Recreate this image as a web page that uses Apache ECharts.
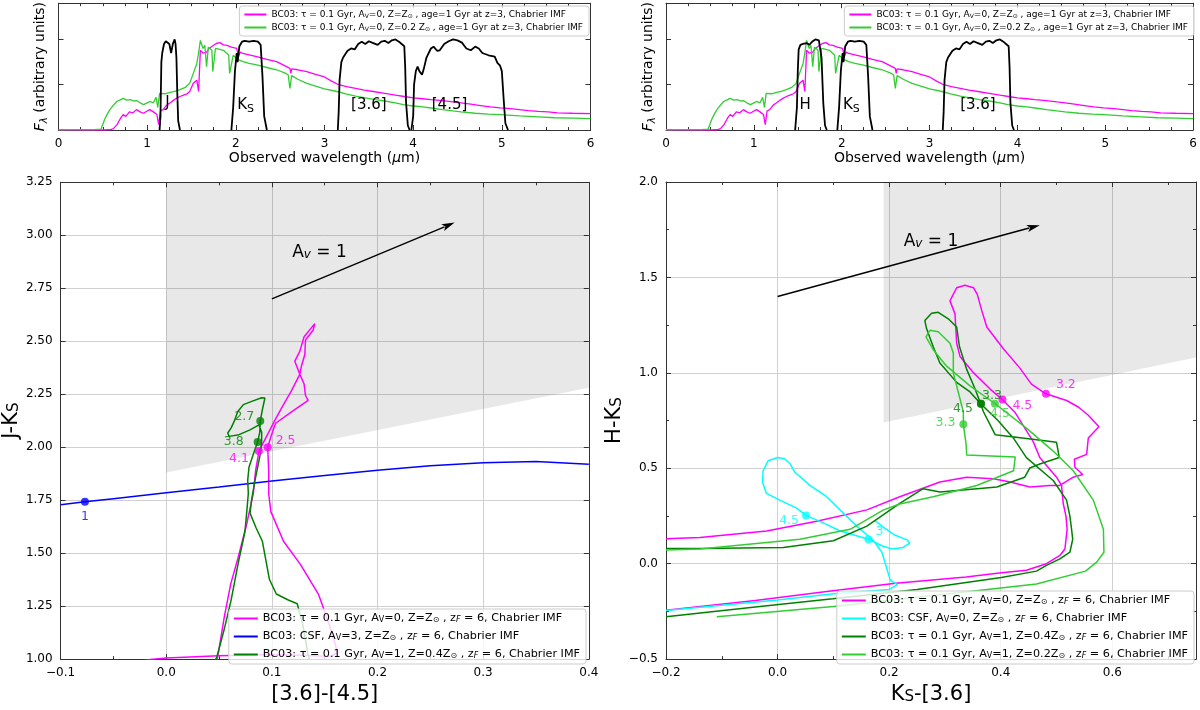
<!DOCTYPE html>
<html><head><meta charset="utf-8">
<script src="https://cdn.jsdelivr.net/npm/echarts@6/dist/echarts.min.js"></script>
<style>html,body{margin:0;padding:0;background:#fff}#c{width:1200px;height:710px}</style>
</head><body><div id="c"></div>
<script>
// ---------------- DATA ----------------
// Top panels: model spectra (wavelength in micron, arbitrary flux)
const specSolar = [[0.0,0],[0.5,0],[0.58,0.005],[0.62,0.03],[0.66,0.12],[0.7,0.26],[0.73,0.34],[0.76,0.3],[0.8,0.4],[0.84,0.38],[0.88,0.45],[0.92,0.4],[0.96,0.37],[1.0,0.42],[1.03,0.45],[1.07,0.4],[1.11,0.34],[1.13,0.12],[1.15,0.42],[1.18,0.45],[1.22,0.55],[1.26,0.6],[1.3,0.66],[1.33,0.7],[1.37,0.74],[1.41,0.77],[1.45,0.8],[1.48,0.85],[1.52,1.03],[1.56,1.1],[1.58,0.85],[1.6,1.76],[1.63,1.7],[1.67,1.72],[1.7,1.8],[1.74,1.86],[1.78,1.91],[1.82,1.93],[1.86,1.88],[1.9,1.87],[1.95,1.83],[2.01,1.8],[2.03,1.62],[2.05,1.72],[2.08,1.69],[2.15,1.66],[2.235,1.62],[2.35,1.56],[2.46,1.51],[2.55,1.42],[2.61,1.36],[2.62,1.25],[2.63,1.35],[2.7,1.33],[2.8,1.29],[2.9,1.23],[2.99,1.18],[3.08,1.08],[3.16,1.0],[3.25,0.96],[3.35,0.92],[3.45,0.88],[3.55,0.85],[3.68,0.81],[3.8,0.77],[3.9,0.74],[4.0,0.71],[4.11,0.69],[4.2,0.67],[4.33,0.65],[4.45,0.62],[4.54,0.6],[4.65,0.57],[4.76,0.54],[4.87,0.51],[4.98,0.49],[5.1,0.47],[5.2,0.45],[5.3,0.43],[5.41,0.41],[5.52,0.4],[5.63,0.38],[5.8,0.37],[6.0,0.36]];
const specLowZ = [[0.0,0.005],[0.2,0.01],[0.4,0.01],[0.48,0.02],[0.5,0.04],[0.52,0.23],[0.55,0.35],[0.58,0.45],[0.62,0.55],[0.656,0.63],[0.69,0.66],[0.73,0.7],[0.77,0.66],[0.81,0.67],[0.85,0.64],[0.88,0.65],[0.92,0.6],[0.96,0.56],[1.0,0.6],[1.03,0.63],[1.07,0.6],[1.1,0.72],[1.12,0.5],[1.14,0.81],[1.2,0.8],[1.26,0.83],[1.32,0.86],[1.37,0.89],[1.43,0.94],[1.48,1.03],[1.52,1.25],[1.56,1.47],[1.58,1.7],[1.6,1.98],[1.63,1.8],[1.65,1.87],[1.67,1.4],[1.69,1.83],[1.73,1.76],[1.74,1.29],[1.77,1.8],[1.82,1.78],[1.86,1.76],[1.92,1.65],[1.93,1.25],[1.97,1.65],[2.02,1.56],[2.08,1.51],[2.15,1.47],[2.235,1.44],[2.35,1.38],[2.46,1.33],[2.55,1.26],[2.59,1.22],[2.61,0.92],[2.63,1.2],[2.7,1.12],[2.8,1.03],[2.9,0.97],[3.0,0.91],[3.14,0.85],[3.24,0.8],[3.35,0.75],[3.46,0.71],[3.57,0.67],[3.68,0.64],[3.8,0.6],[3.89,0.56],[4.0,0.53],[4.11,0.51],[4.22,0.48],[4.33,0.45],[4.45,0.42],[4.54,0.4],[4.7,0.37],[4.85,0.35],[4.98,0.34],[5.2,0.31],[5.41,0.29],[5.6,0.27],[5.8,0.26],[6.0,0.25]];
// Filter transmission curves
const filterJ = [[1.14,0],[1.15,0.3],[1.16,1.5],[1.17,1.7],[1.19,1.9],[1.21,1.96],[1.23,2.0],[1.25,1.9],[1.27,1.7],[1.29,1.9],[1.31,2.0],[1.32,1.9],[1.33,1.6],[1.34,0.8],[1.35,0.2],[1.37,0]];
const filterH = [[1.47,0],[1.49,0.5],[1.5,1.3],[1.51,1.78],[1.53,1.88],[1.56,1.9],[1.6,1.92],[1.63,1.88],[1.67,1.96],[1.7,2.0],[1.74,1.98],[1.76,1.97],[1.77,1.6],[1.79,0.6],[1.81,0.1],[1.83,0]];
const filterKs = [[1.95,0],[1.97,0.5],[1.99,1.3],[2.01,1.7],[2.02,1.5],[2.04,1.85],[2.07,1.95],[2.1,1.97],[2.15,1.95],[2.2,1.97],[2.25,1.95],[2.28,1.88],[2.3,1.2],[2.32,0.3],[2.35,0]];
const filterI1 = [[3.15,0],[3.16,0.4],[3.17,1.1],[3.19,1.5],[3.21,1.6],[3.23,1.58],[3.26,1.75],[3.3,1.8],[3.34,1.78],[3.38,1.9],[3.42,1.95],[3.46,1.9],[3.5,1.96],[3.55,1.92],[3.6,1.88],[3.64,1.95],[3.68,1.97],[3.72,1.92],[3.76,1.98],[3.8,2.0],[3.84,1.95],[3.87,1.9],[3.9,1.85],[3.91,1.4],[3.92,0.6],[3.94,0.1],[3.96,0]];
const filterI2 = [[3.98,0],[4.0,0.3],[4.01,1.0],[4.03,1.3],[4.05,1.4],[4.07,1.3],[4.1,1.22],[4.12,1.35],[4.15,1.6],[4.2,1.8],[4.23,1.84],[4.27,1.75],[4.3,1.76],[4.35,1.9],[4.4,1.96],[4.45,2.0],[4.5,1.98],[4.55,1.93],[4.6,1.8],[4.65,1.76],[4.7,1.84],[4.74,1.8],[4.78,1.7],[4.85,1.65],[4.92,1.62],[4.95,1.48],[4.98,1.42],[5.0,1.3],[5.02,0.7],[5.04,0.15],[5.07,0]];
const filterLabelsTL = ['J','{b|K}{s|S}','[3.6]','[4.5]'];
const filterLabelPtsTL = [[1.23,0.6],[2.11,0.56],[3.5,0.56],[4.41,0.56]];
const filterLabelsTR = ['H','{b|K}{s|S}','[3.6]'];
const filterLabelPtsTR = [[1.585,0.56],[2.11,0.56],[3.55,0.56]];

// Bottom-left: J-Ks vs [3.6]-[4.5]
const bcTauSunL = [[-0.03,0.985],[-0.015,0.998],[0.0,1.005],[0.05,1.016],[0.1,1.022],[0.14,1.016],[0.155,1.012],[0.162,1.03],[0.16,1.07],[0.154,1.168],[0.144,1.307],[0.127,1.447],[0.111,1.556],[0.099,1.696],[0.097,1.78],[0.097,1.89],[0.096,2.0],[0.0997,2.059],[0.1035,2.113],[0.1186,2.167],[0.1343,2.221],[0.1318,2.244],[0.1305,2.298],[0.1258,2.352],[0.1217,2.406],[0.1264,2.452],[0.1305,2.521],[0.1406,2.583],[0.1415,2.575],[0.139,2.552],[0.1318,2.506],[0.1312,2.437],[0.128,2.383],[0.1264,2.344],[0.1186,2.267],[0.1107,2.198],[0.1029,2.128],[0.095,2.051],[0.0878,1.982],[0.0846,1.89],[0.0824,1.782],[0.076,1.634],[0.068,1.478],[0.061,1.354],[0.055,1.2],[0.05,1.05],[0.048,0.99]];
const bcCsfAv3L = [[-0.1,1.728],[-0.077,1.742],[-0.05,1.757],[0.0,1.785],[0.05,1.812],[0.1,1.84],[0.15,1.866],[0.2,1.891],[0.25,1.912],[0.3,1.926],[0.35,1.932],[0.4,1.92]];
const bcTauZ04L = [[0.046,0.99],[0.048,1.012],[0.0547,1.137],[0.0613,1.276],[0.0679,1.447],[0.0745,1.602],[0.0761,1.689],[0.0777,1.782],[0.0771,1.8435],[0.0783,1.905],[0.0824,1.967],[0.0865,2.024],[0.0885,2.07],[0.089,2.124],[0.0909,2.175],[0.0934,2.232],[0.0903,2.233],[0.0809,2.216],[0.073,2.201],[0.0676,2.167],[0.0645,2.124],[0.0613,2.09],[0.0582,2.067],[0.0595,2.051],[0.0689,2.059],[0.0793,2.082],[0.0878,2.105],[0.0903,2.07],[0.0903,2.028],[0.089,1.967],[0.0865,1.905],[0.084,1.843],[0.0808,1.751],[0.0793,1.689],[0.085,1.62],[0.091,1.556],[0.0976,1.377],[0.1042,1.307],[0.115,1.28],[0.124,1.261],[0.129,1.168],[0.134,1.028],[0.136,0.99]];
const magMarkL = [[0.096,2.0],[0.0877,1.982]];
const magMarkLabelsL = ['2.5','4.1'];
const blueMarkL = [[-0.077,1.742]];
const blueMarkLabelsL = ['1'];
const dgMarkL = [[0.089,2.124],[0.0865,2.024]];
const dgMarkLabelsL = ['2.7','3.8'];
const shadeL = [[0,1.88],[0.4,2.28],[0.4,3.25],[0,3.25]];
const arrowL = [[0.1,2.70],[0.273,3.06]];
const avTextL = [[0.145,2.92]];

// Bottom-right: H-Ks vs Ks-[3.6]
const bcTauSunR = [[-0.2,0.131],[-0.139,0.137],[-0.1025,0.148],[-0.0196,0.171],[0.07,0.222],[0.16,0.282],[0.219,0.351],[0.291,0.428],[0.339,0.453],[0.387,0.445],[0.417,0.428],[0.452,0.402],[0.488,0.41],[0.506,0.41],[0.53,0.453],[0.547,0.467],[0.533,0.505],[0.532,0.547],[0.554,0.573],[0.557,0.659],[0.576,0.718],[0.557,0.778],[0.539,0.821],[0.518,0.855],[0.481,0.89],[0.455,0.941],[0.434,1.026],[0.404,1.129],[0.375,1.24],[0.366,1.326],[0.358,1.411],[0.351,1.446],[0.336,1.459],[0.321,1.446],[0.309,1.377],[0.318,1.309],[0.321,1.155],[0.327,1.086],[0.351,1.001],[0.381,0.915],[0.403,0.86],[0.425,0.795],[0.458,0.641],[0.47,0.556],[0.5,0.453],[0.509,0.41],[0.512,0.316],[0.517,0.248],[0.519,0.18],[0.515,0.077],[0.506,0.043],[0.482,0.0],[0.446,-0.034],[0.401,-0.048],[0.338,-0.07],[0.212,-0.103],[0.099,-0.142],[-0.04,-0.193],[-0.2,-0.244]];
const bcCsfAv0R = [[0.175,0.225],[0.19,0.19],[0.21,0.15],[0.232,0.125],[0.237,0.108],[0.225,0.085],[0.205,0.077],[0.187,0.094],[0.163,0.128],[0.112,0.171],[0.082,0.214],[0.051,0.253],[0.034,0.291],[0.004,0.333],[-0.02,0.368],[-0.027,0.427],[-0.026,0.487],[-0.017,0.539],[0.0,0.556],[0.012,0.55],[0.022,0.525],[0.031,0.479],[0.058,0.41],[0.088,0.351],[0.112,0.282],[0.142,0.197],[0.172,0.12],[0.187,0.06],[0.202,-0.086],[0.215,-0.11],[0.2,-0.135],[0.1,-0.158],[0.0,-0.19],[-0.1,-0.218],[-0.2,-0.245]];
const bcTauZ04R = [[-0.2,-0.278],[-0.04,-0.227],[0.099,-0.184],[0.25,-0.135],[0.401,-0.073],[0.464,-0.039],[0.482,-0.009],[0.506,0.025],[0.524,0.06],[0.529,0.128],[0.527,0.18],[0.524,0.248],[0.518,0.333],[0.494,0.436],[0.446,0.556],[0.4225,0.659],[0.395,0.75],[0.364,0.838],[0.345,0.9],[0.321,0.95],[0.291,1.052],[0.279,1.137],[0.267,1.232],[0.264,1.274],[0.276,1.312],[0.288,1.317],[0.306,1.283],[0.321,1.24],[0.326,1.138],[0.339,1.018],[0.354,0.915],[0.364,0.838],[0.369,0.796],[0.39,0.676],[0.45,0.655],[0.5,0.636],[0.505,0.556],[0.47,0.522],[0.452,0.501],[0.443,0.453],[0.393,0.402],[0.327,0.385],[0.291,0.376],[0.261,0.393],[0.219,0.316],[0.16,0.197],[0.1,0.12],[0.0103,0.085],[-0.139,0.08],[-0.2,0.08]];
const bcTauZ02R = [[-0.2,0.072],[-0.139,0.077],[0.04,0.128],[0.13,0.18],[0.19,0.282],[0.219,0.313],[0.279,0.351],[0.357,0.41],[0.387,0.445],[0.423,0.487],[0.426,0.559],[0.339,0.569],[0.338,0.624],[0.333,0.73],[0.333,0.795],[0.315,1.0],[0.315,1.104],[0.309,1.155],[0.288,1.215],[0.273,1.223],[0.266,1.189],[0.279,1.121],[0.303,1.035],[0.345,0.932],[0.39,0.838],[0.446,0.71],[0.494,0.59],[0.53,0.487],[0.566,0.333],[0.584,0.18],[0.585,0.06],[0.572,0.008],[0.552,-0.039],[0.464,-0.107],[0.3,-0.16],[0.1,-0.225],[-0.109,-0.278]];
const magMarkR = [[0.481,0.89],[0.403,0.86]];
const magMarkLabelsR = ['3.2','4.5'];
const cyanMarkR = [[0.051,0.253],[0.163,0.128]];
const cyanMarkLabelsR = ['4.5','3'];
const dgMarkR = [[0.3645,0.838],[0.3645,0.838]];
const dgMarkLabelsR = ['3.3','4.5'];
const lgMarkR = [[0.333,0.73],[0.3896,0.838]];
const lgMarkLabelsR = ['3.3','4.5'];
const shadeR = [[0.19,0.74],[0.75,1.08],[0.75,2.0],[0.19,2.0]];
const arrowR = [[0.0,1.40],[0.47,1.774]];
const avTextR = [[0.275,1.69]];

// ---------------- STYLE / LAYOUT ----------------
const FONT = 'DejaVu Sans';
const C = {mag:'#ff00ff', lime:'#32cd32', dg:'#008000', cyan:'#00ffff', blue:'#0000ff', ax:'#333'};
function rich(size){
  const ss = Math.round(size*0.72);
  return {
    b:{fontSize:size,fontFamily:FONT,lineHeight:Math.round(size*1.3)},
    s:{fontSize:ss,lineHeight:ss,verticalAlign:'bottom',fontFamily:FONT},
    si:{fontSize:ss,lineHeight:ss,verticalAlign:'bottom',fontStyle:'italic',fontFamily:FONT},
    i:{fontSize:size,fontStyle:'italic',fontFamily:FONT,lineHeight:Math.round(size*1.3)}
  };
}
const plain = r => r.replace(/\{\w+\|([^}]*)\}/g,'$1');
const R = {
  specSun:'BC03: τ = 0.1 Gyr, A{s|V}=0, Z=Z{s|⊙} , age=1 Gyr at z=3, Chabrier IMF',
  specLow:'BC03: τ = 0.1 Gyr, A{s|V}=0, Z=0.2 Z{s|⊙} , age=1 Gyr at z=3, Chabrier IMF',
  mag:'BC03: τ = 0.1 Gyr, A{s|V}=0, Z=Z{s|⊙} , z{si|F} = 6, Chabrier IMF',
  blue:'BC03: CSF, A{s|V}=3, Z=Z{s|⊙} , z{si|F} = 6, Chabrier IMF',
  cyan:'BC03: CSF, A{s|V}=0, Z=Z{s|⊙} , z{si|F} = 6, Chabrier IMF',
  dg:'BC03: τ = 0.1 Gyr, A{s|V}=1, Z=0.4Z{s|⊙} , z{si|F} = 6, Chabrier IMF',
  lg:'BC03: τ = 0.1 Gyr, A{s|V}=1, Z=0.2Z{s|⊙} , z{si|F} = 6, Chabrier IMF'
};
const N = {}; const richByName = {};
Object.keys(R).forEach(k=>{N[k]=plain(R[k]); richByName[N[k]]=R[k];});

const grids = [
  {left:58.5, top:3, width:532, height:127},
  {left:666, top:3, width:530, height:127},
  {left:58.3, top:182.3, width:530.5, height:486.5},
  {left:666, top:182, width:530, height:487}
];
const fmt = d => v => { if (Math.abs(v)<1e-9) v=0; return (v<0?'\u2212':'')+Math.abs(v).toFixed(d); };

const xAxes=[], yAxes=[];
function axisBase(g,o){
  return {gridIndex:g,type:'value',min:o.min,max:o.max,interval:o.interval,
    axisLine:{show:true,onZero:false,lineStyle:{color:C.ax,width:1}},
    axisTick:{show:true,inside:true,length:5,lineStyle:{color:C.ax}},
    minorTick:{show:!!o.minor,splitNumber:o.minor||2,length:3,lineStyle:{color:C.ax}},
    minorSplitLine:{show:false}, splitLine:{show:false}};
}
function addX(g,o){
  xAxes.push(Object.assign(axisBase(g,o),{position:'bottom',
    axisLabel:{show:true,color:'#000',fontSize:12,fontFamily:FONT,margin:8,formatter:o.fmt,showMaxLabel:o.showMax!==false},
    splitLine:{show:!!o.grid,lineStyle:{color:'#d0d0d0',width:1}},
    name:o.name,nameLocation:'middle',nameGap:o.nameGap,
    nameTextStyle:{fontFamily:FONT,fontSize:o.nameSize,color:'#000',rich:rich(o.nameSize)}}));
  xAxes.push(Object.assign(axisBase(g,o),{position:'top',axisLabel:{show:false}}));
}
function addY(g,o){
  yAxes.push(Object.assign(axisBase(g,o),{position:'left',
    axisLabel:{show:o.labels!==false,color:'#000',fontSize:12,fontFamily:FONT,margin:8,formatter:o.fmt},
    splitLine:{show:!!o.grid,lineStyle:{color:'#d0d0d0',width:1}},
    name:o.name,nameLocation:'middle',nameGap:o.nameGap,
    nameTextStyle:{fontFamily:FONT,fontSize:o.nameSize,color:'#000',rich:rich(o.nameSize)}}));
  yAxes.push(Object.assign(axisBase(g,o),{position:'right',axisLabel:{show:false}}));
}
const wlName = 'Observed wavelength ({i|μ}m)';
const fluxName = '{i|F}{si|λ} (arbitrary units)';
[0,1].forEach(g=>{
  addX(g,{min:0,max:6,interval:1,minor:4,fmt:v=>String(Math.round(v)),name:wlName,nameGap:18,nameSize:14});
  addY(g,{min:0,max:2.8,interval:1,labels:false,name:fluxName,nameGap:9,nameSize:14});
});
addX(2,{min:-0.1,max:0.4,interval:0.1,minor:2,fmt:fmt(1),grid:true,name:'[3.6]-[4.5]',nameGap:12,nameSize:21});
addY(2,{min:1.0,max:3.25,interval:0.25,fmt:fmt(2),grid:true,name:'J-K{s|S}',nameGap:28,nameSize:21});
addX(3,{min:-0.2,max:0.75,interval:0.2,minor:2,fmt:fmt(1),grid:true,showMax:false,name:'K{s|S}-[3.6]',nameGap:12,nameSize:21});
addY(3,{min:-0.5,max:2.0,interval:0.5,minor:2,fmt:fmt(1),grid:true,name:'H-K{s|S}',nameGap:27,nameSize:21});

// ---------------- SERIES ----------------
const series = [];
let sid = 0;
function line(name,data,color,g,width,z){
  series.push({type:'line',name,data,xAxisIndex:2*g,yAxisIndex:2*g,showSymbol:false,symbol:'none',
    lineStyle:{color,width:width||1.5},itemStyle:{color},silent:true,clip:true,z:z||3,animation:false});
}
function markers(data,labels,places,color,g){
  series.push({type:'scatter',name:'m'+(sid++),xAxisIndex:2*g,yAxisIndex:2*g,symbolSize:8,
    itemStyle:{color},z:5,silent:true,animation:false,
    data:data.map((p,i)=>({value:p,label:{position:places[i][0],offset:places[i][1],distance:places[i][2]}})),
    label:{show:true,color,fontSize:12.5,fontFamily:FONT,formatter:p=>labels[p.dataIndex]}});
}
function texts(data,labels,g,size,color){
  series.push({type:'custom',name:'t'+(sid++),xAxisIndex:2*g,yAxisIndex:2*g,data:data,silent:true,clip:false,z:6,animation:false,
    renderItem:(params,api)=>{
      const p = api.coord([api.value(0),api.value(1)]);
      return {type:'text',x:p[0],y:p[1],style:{text:labels[params.dataIndex],align:'center',verticalAlign:'middle',
        fill:color,fontSize:size,fontFamily:FONT,rich:rich(size)}};
    }});
}
function shade(poly,g){
  series.push({type:'custom',name:'s'+(sid++),xAxisIndex:2*g,yAxisIndex:2*g,data:[poly[0]],silent:true,clip:true,z:1,animation:false,
    renderItem:(params,api)=>({type:'polygon',shape:{points:poly.map(p=>api.coord(p))},style:{fill:'rgba(0,0,0,0.09)'}})});
}
function arrow(a,g){
  series.push({type:'custom',name:'a'+(sid++),xAxisIndex:2*g,yAxisIndex:2*g,data:[a[0]],silent:true,clip:false,z:4,animation:false,
    renderItem:(params,api)=>{
      const p0 = api.coord(a[0]), p1 = api.coord(a[1]);
      const dx = p1[0]-p0[0], dy = p1[1]-p0[1], L = Math.hypot(dx,dy), ux = dx/L, uy = dy/L;
      const hl = 13, hw = 3.6;
      const bx = p1[0]-ux*hl, by = p1[1]-uy*hl;
      return {type:'group',children:[
        {type:'line',shape:{x1:p0[0],y1:p0[1],x2:bx+ux*2,y2:by+uy*2},style:{stroke:'#000',lineWidth:1.4}},
        {type:'polygon',shape:{points:[[p1[0],p1[1]],[bx-uy*hw,by+ux*hw],[bx+ux*3,by+uy*3],[bx+uy*hw,by-ux*hw]]},style:{fill:'#000'}}
      ]};
    }});
}

// top panels
[0,1].forEach(g=>{
  line(N.specSun,specSolar,C.mag,g,1.3,3);
  line(N.specLow,specLowZ,C.lime,g,1.3,3);
});
[filterJ,filterKs,filterI1,filterI2].forEach(f=>line('filt',f,'#000',0,1.8,4));
[filterH,filterKs,filterI1].forEach(f=>line('filt',f,'#000',1,1.8,4));
texts(filterLabelPtsTL,filterLabelsTL,0,15,'#000');
texts(filterLabelPtsTR,filterLabelsTR,1,15,'#000');

// bottom-left
shade(shadeL,2);
line(N.mag,bcTauSunL,C.mag,2);
line(N.blue,bcCsfAv3L,C.blue,2);
line(N.dg,bcTauZ04L,C.dg,2);
arrow(arrowL,2);
markers(magMarkL,magMarkLabelsL,[['right',[0,-6],4],['left',[-2,8],4]],C.mag,2);
markers(blueMarkL,blueMarkLabelsL,[['bottom',[0,0],4]],C.blue,2);
markers(dgMarkL,dgMarkLabelsL,[['left',[0,-4],2],['left',[-4,0],6]],C.dg,2);
texts(avTextL,['A{si|v} = 1'],2,17,'#000');

// bottom-right
shade(shadeR,3);
line(N.mag,bcTauSunR,C.mag,3);
line(N.cyan,bcCsfAv0R,C.cyan,3);
line(N.dg,bcTauZ04R,C.dg,3);
line(N.lg,bcTauZ02R,C.lime,3);
arrow(arrowR,3);
markers(magMarkR,magMarkLabelsR,[['right',[0,-9],6],['right',[0,6],6]],C.mag,3);
markers(cyanMarkR,cyanMarkLabelsR,[['left',[0,5],3],['right',[0,-8],3]],C.cyan,3);
markers(dgMarkR,dgMarkLabelsR,[['top',[11,2],0],['left',[-1,5],3]],C.dg,3);
markers(lgMarkR,lgMarkLabelsR,[['left',[0,-2],4],['bottom',[5,-1],0]],C.lime,3);
texts(avTextR,['A{si|v} = 1'],3,17,'#000');

// ---------------- LEGENDS ----------------
function legend(names,pos,size,gap,iw){
  return Object.assign({data:names,orient:'vertical',selectedMode:false,icon:'rect',itemWidth:iw,itemHeight:2,
    itemGap:gap,padding:[4,6,4,5],backgroundColor:'rgba(255,255,255,0.8)',borderColor:'#cccccc',borderWidth:1,borderRadius:3,
    textStyle:{fontFamily:FONT,fontSize:size,color:'#000',rich:rich(size)},
    formatter:n=>richByName[n]||n},pos);
}
const legends = [
  legend([N.specSun,N.specLow],{right:611,top:6},9,4,22),
  legend([N.specSun,N.specLow],{right:6,top:6},9,4,22),
  legend([N.mag,N.blue,N.dg],{right:614,bottom:46},11.2,7,24),
  legend([N.mag,N.cyan,N.dg,N.lg],{right:6,bottom:46},11.2,7,24)
];

const chart = echarts.init(document.getElementById('c'));
chart.setOption({animation:false,backgroundColor:'#fff',grid:grids,xAxis:xAxes,yAxis:yAxes,series,legend:legends});
</script></body></html>
